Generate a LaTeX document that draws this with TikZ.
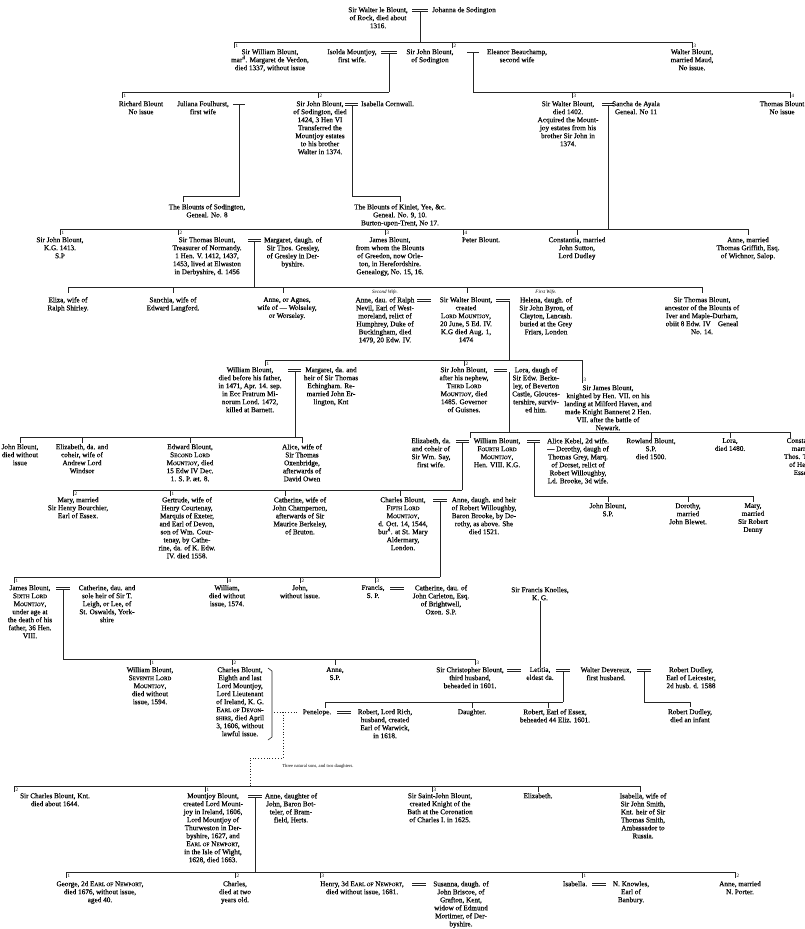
\documentclass[tikz,border=0pt]{standalone}
\usepackage{fontspec}
\setmainfont{Liberation Serif}
\newcommand\SC[1]{{\fontsize{5.3}{8}\selectfont\addfontfeature{FakeBold=0.2}#1}}
\newcommand\marr[3]{\draw[ml] (#1,#3-0.9) -- (#2,#3-0.9) (#1,#3+0.9) -- (#2,#3+0.9);}
\newcommand\sgl[3]{\draw[ml] (#1,#3) -- (#2,#3);}
\newcommand\tickn[3]{\draw[ml] (#1,#2) -- (#1,#2+6); \node[num] at (#1+1.5,#2+3.5) {#3};}
\newcommand\tickp[2]{\draw[ml] (#1,#2) -- (#1,#2+6);}
\begin{document}
\begin{tikzpicture}[x=1pt,y=-1pt,
  every node/.style={font=\fontsize{7.2}{8}\selectfont\addfontfeature{FakeBold=0.2}, inner sep=0pt, align=center, anchor=north, text=black},
  ml/.style={line width=0.6pt, black!85},
  dl/.style={line width=0.8pt, black!85, dotted},
  num/.style={font=\fontsize{5}{5}\selectfont, anchor=west, inner sep=0pt},
  wife/.style={font=\fontsize{5}{6}\selectfont\itshape},
  tiny/.style={font=\fontsize{4.6}{6}\selectfont}]
\useasboundingbox (0,0) rectangle (804,929);
\fill[white] (0,0) rectangle (804,929);

% ---------- generation 1
\node (WalterLe) at (378,7) {Sir Walter le Blount,\\of Rock, died about\\1316.};
\node[anchor=north west] (Johanna) at (432,7) {Johanna de Sodington};
\marr{412}{428}{10}
\coordinate (g1) at (420,12);
\coordinate (b2) at (420,42);
\draw[ml] (g1) -- (b2);
\draw[ml] (234,42) -- (692,42);
\tickn{234}{42}{1}\tickn{452}{42}{2}\tickn{692}{42}{3}

% ---------- generation 2
\node (SirWilliam) at (270,49) {Sir William Blount,\\mar\textsuperscript{d}. Margaret de Verdon,\\died 1337, without issue};
\node (Isolda) at (352,49) {Isolda Mountjoy,\\first wife.};
\marr{381}{397}{52}
\node (SirJohnA) at (430,49) {Sir John Blount,\\of Sodington};
\sgl{467}{479}{52}
\node (Eleanor) at (517,49) {Eleanor Beauchamp,\\second wife};
\node (WalterMaud) at (692,49) {Walter Blount,\\married Maud,\\No issue.};
\draw[ml] (389,54) -- (389,92);
\draw[ml] (473,52) -- (473,92);
\draw[ml] (122,92) -- (389,92);
\draw[ml] (473,92) -- (790,92);
\tickn{122}{92}{1}\tickn{318}{92}{2}\tickn{572}{92}{3}\tickn{790}{92}{4}

% ---------- generation 3
\node (Richard) at (141,101) {Richard Blount\\No issue};
\node (Juliana) at (203,101) {Juliana Foulhurst,\\first wife};
\sgl{233}{245}{104}
\node (SirJohnB) at (320,101) {Sir John Blount,\\of Sodington, died\\1424, 3 Hen VI\\Transferred the\\Mountjoy estates\\to his brother\\Walter in 1374.};
\marr{345}{358}{104}
\node[anchor=north west] (Isabella) at (361,101) {Isabella Cornwall.};
\node (SirWalterB) at (568,101) {Sir Walter Blount,\\died 1402.\\Acquired the Mount-\\joy estates from his\\brother Sir John in\\1374.};
\marr{602}{614}{104}
\node (Sancha) at (636,101) {Sancha de Ayala\\Geneal. No 11};
\node (ThomasB) at (782,101) {Thomas Blount\\No issue};
\draw[ml] (239,104) -- (239,196) -- (183,196) -- (183,202);
\draw[ml] (352,106) -- (352,196) -- (400,196) -- (400,202);
\node (BlountsSod) at (207,204) {The Blounts of Sodington,\\Geneal. No. 8};
\node (BlountsKin) at (400,204) {The Blounts of Kinlet, Yee, \&c.\\Geneal. No. 9, 10.\\Burton-upon-Trent, No 17.};
\draw[ml] (608,106) -- (608,229);

% ---------- generation 4
\draw[ml] (60,229) -- (748,229);
\tickn{60}{229}{1}\tickn{178}{229}{2}\tickn{385}{229}{3}\tickn{463}{229}{4}\tickp{577}{229}\tickp{748}{229}
\node (SirJohnKG) at (60,237) {Sir John Blount,\\K.G. 1413.\\S.P};
\node (SirThomasT) at (207,237) {Sir Thomas Blount,\\Treasurer of Normandy.\\1 Hen. V. 1412, 1437,\\1453, lived at Elwaston\\in Derbyshire, d. 1456};
\marr{248}{261}{240}
\node (MargaretG) at (293,237) {Margaret, daugh. of\\Sir Thos. Gresley,\\of Gresley in Der-\\byshire.};
\node (James) at (390,237) {James Blount,\\from whom the Blounts\\of Greedon, now Orle-\\ton, in Herefordshire.\\Genealogy, No. 15, 16.};
\node (Peter) at (481,237) {Peter Blount.};
\node (Constantia) at (577,237) {Constantia, married\\John Sutton,\\Lord Dudley};
\node (AnneG) at (748,237) {Anne, married\\Thomas Griffith, Esq.\\of Wichnor, Salop.};
\draw[ml] (254,242) -- (254,287);

% ---------- generation 5
\draw[ml] (68,287) -- (702,287);
\tickp{68}{287}\tickp{173}{287}\tickp{283}{287}\tickp{467}{287}\tickp{702}{287}
\node (Eliza) at (68,297) {Eliza, wife of\\Ralph Shirley.};
\node (Sanchia) at (173,297) {Sanchia, wife of\\Edward Langford.};
\node (AnneAgnes) at (287,297) {Anne, or Agnes,\\wife of — Wolseley,\\or Worseley.};
\node[wife] (SecondWife) at (385,290) {Second Wife.};
\node (AnneNevil) at (385,297) {Anne, dau. of Ralph\\Nevil, Earl of West-\\moreland, relict of\\Humphrey, Duke of\\Buckingham, died\\1479, 20 Edw. IV.};
\marr{417}{431}{300}
\node (SirWalterLM) at (466,297) {Sir Walter Blount,\\created\\L\SC{ORD} M\SC{OUNTJOY},\\20 June, 5 Ed. IV.\\K.G died Aug. 1,\\1474};
\marr{496}{510}{300}
\node[wife] (FirstWife) at (546,290) {First Wife.};
\node (Helena) at (546,297) {Helena, daugh. of\\Sir John Byron, of\\Clayton, Lancash.\\buried at the Grey\\Friars, London};
\node (SirThomasIver) at (702,297) {Sir Thomas Blount,\\ancestor of the Blounts of\\Iver and Maple-Durham,\\obiit 8 Edw. IV\quad Geneal\\No. 14.};
\draw[ml] (509,302) -- (509,360);
\draw[ml] (265,360) -- (582,360) -- (582,383);
\tickn{265}{360}{1}\tickn{464}{360}{2}
\node[num] (n3) at (583.5,380) {3};

% ---------- generation 6
\node (WilliamB) at (250,367) {William Blount,\\died before his father,\\in 1471, Apr. 14. sep.\\in Ecc Fratrum Mi-\\norum Lond. 1472,\\killed at Barnett.};
\marr{288}{301}{370}
\node (MargaretE) at (331,367) {Margaret, da. and\\heir of Sir Thomas\\Echingham. Re-\\married John Er-\\lington, Knt};
\node (SirJohnC) at (464,367) {Sir John Blount,\\after his nephew,\\T\SC{HIRD} L\SC{ORD}\\M\SC{OUNTJOY}, died\\1485. Governor\\of Guisnes.};
\marr{494}{507}{370}
\node (Lora) at (536,367) {Lora, daugh of\\Sir Edw. Berke-\\ley, of Beverton\\Castle, Glouces-\\tershire, surviv-\\ed him.};
\node (SirJames) at (608,385) {Sir James Blount,\\knighted by Hen. VII. on his\\landing at Milford Haven, and\\made Knight Banneret 2 Hen.\\VII. after the battle of\\Newark.};
\draw[ml] (295,372) -- (295,437);
\draw[ml] (509,372) -- (509,432);

% ---------- generation 7
\draw[ml] (20,437) -- (302,437);
\tickp{20}{437}\tickp{82}{437}\tickp{190}{437}\tickp{302}{437}
\node (JohnB) at (20,444) {John Blount,\\died without\\issue};
\node (ElizabethW) at (82,444) {Elizabeth, da. and\\coheir, wife of\\Andrew Lord\\Windsor};
\node (Edward) at (190,444) {Edward Blount,\\S\SC{ECOND} L\SC{ORD}\\M\SC{OUNTJOY}, died\\15 Edw IV Dec.\\1. S. P. æt. 8.};
\node (Alice) at (302,444) {Alice, wife of\\Sir Thomas\\Oxenbridge,\\afterwards of\\David Owen};
\draw[ml] (470,432) -- (790,432);
\tickp{470}{432}\tickp{651}{432}\tickp{730}{432}\tickp{790}{432}
\node (ElizSay) at (431,438) {Elizabeth, da.\\and coheir of\\Sir Wm. Say,\\first wife.};
\marr{456}{469}{441}
\node (William4) at (497,438) {William Blount,\\F\SC{OURTH} L\SC{ORD}\\M\SC{OUNTJOY},\\Hen. VIII. K.G.};
\marr{527}{540}{441}
\node (AliceK) at (578,438) {Alice Kebel, 2d wife.\\— Dorothy, daugh of\\Thomas Grey, Marq.\\of Dorset, relict of\\Robert Willoughby,\\Ld. Brooke, 3d wife.};
\node (Rowland) at (651,438) {Rowland Blount,\\S.P.\\died 1500.};
\node (LoraD) at (730,438) {Lora,\\died 1480.};
\node (ConstT) at (803,438) {Constantia,\\married\\Thos. Tyrrel,\\of Heron,\\Essex.};
\draw[ml] (462,443) -- (462,490);
\draw[ml] (534,443) -- (534,496);

% ---------- generation 8
\draw[ml] (73,490) -- (462,490);
\tickn{73}{490}{2}\tickn{170}{490}{1}\tickp{285}{490}\tickp{400}{490}
\node (Mary) at (78,497) {Mary, married\\Sir Henry Bourchier,\\Earl of Essex.};
\node (Gertrude) at (187,497) {Gertrude, wife of\\Henry Courtenay,\\Marquis of Exeter,\\and Earl of Devon,\\son of Wm. Cour-\\tenay, by Cathe-\\rine, da. of K. Edw.\\IV. died 1558.};
\node (CatherineC) at (300,497) {Catherine, wife of\\John Champernon,\\afterwards of Sir\\Maurice Berkeley,\\of Bruton.};
\node (Charles5) at (403,497) {Charles Blount,\\F\SC{IFTH} L\SC{ORD}\\M\SC{OUNTJOY},\\d. Oct. 14, 1544,\\bur\textsuperscript{d}. at St. Mary\\Aldermary,\\London.};
\marr{433}{447}{500}
\node (AnneW) at (484,497) {Anne, daugh. and heir\\of Robert Willoughby,\\Baron Brooke, by Do-\\rothy, as above. She\\died 1521.};
\draw[ml] (534,496) -- (753,496);
\tickp{608}{496}\tickp{688}{496}\tickp{753}{496}
\node (JohnBSP) at (608,503) {John Blount,\\S.P.};
\node (Dorothy) at (688,503) {Dorothy,\\married\\John Blewet.};
\node (MaryD) at (753,503) {Mary,\\married\\Sir Robert\\Denny};
\draw[ml] (440,502) -- (440,577);

% ---------- generation 9
\draw[ml] (14,577) -- (440,577);
\tickn{14}{577}{1}\tickn{227}{577}{4}\tickn{300}{577}{2}\tickn{375}{577}{3}
\node (James6) at (30,585) {James Blount,\\S\SC{IXTH} L\SC{ORD}\\M\SC{OUNTJOY},\\under age at\\the death of his\\father, 36 Hen.\\VIII.};
\marr{56}{70}{588}
\node (CatherineL) at (107,585) {Catherine, dau. and\\sole heir of Sir T.\\Leigh, or Lee, of\\St. Oswalds, York-\\shire};
\node (William4th) at (227,585) {William,\\died without\\issue, 1574.};
\node (JohnNI) at (300,585) {John,\\without issue.};
\node (Francis) at (373,585) {Francis,\\S. P.};
\marr{390}{404}{588}
\node (CatherineC2) at (441,585) {Catherine, dau. of\\John Carleton, Esq.\\of Brightwell,\\Oxon. S.P.};
\node (Knolles) at (540,587) {Sir Francis Knolles,\\K. G.};
\draw[ml] (63,590) -- (63,659);

% ---------- generation 10
\draw[ml] (63,659) -- (475,659);
\tickn{150}{659}{1}\tickn{232}{659}{2}\tickp{335}{659}\tickn{475}{659}{3}
\node (William7) at (150,667) {William Blount,\\S\SC{EVENTH} L\SC{ORD}\\M\SC{OUNTJOY},\\died without\\issue, 1594.};
\node (Charles8) at (240,667) {Charles Blount,\\Eighth and last\\Lord Mountjoy,\\Lord Lieutenant\\of Ireland, K. G.\\E\SC{ARL OF} D\SC{EVON}-\\\SC{SHIRE}, died April\\3, 1606, without\\lawful issue.};
\node (Anne) at (335,667) {Anne,\\S.P.};
\node (SirChristopher) at (470,667) {Sir Christopher Blount,\\third husband,\\beheaded in 1601.};
\marr{507}{521}{670}
\node (Letitia) at (540,667) {Letitia,\\eldest da.};
\draw[ml] (Knolles.south) -- (Letitia.north);
\marr{556}{570}{670}
\node (Devereux) at (606,667) {Walter Devereux,\\first husband.};
\marr{637}{651}{670}
\node (Dudley) at (691,667) {Robert Dudley,\\Earl of Leicester,\\2d husb. d. 1588};
\draw[ml] (268,668) -- (272,671) -- (272,737) -- (268,740);
\draw[dl] (274,712) -- (299,712);
\draw[dl] (283,712) -- (283,758) -- (250,758) -- (250,786);
\draw[ml] (563,672) -- (563,702);
\draw[ml] (325,702) -- (563,702);
\tickp{325}{702}\tickp{472}{702}\tickp{548}{702}
\draw[ml] (644,672) -- (644,702) -- (690,702) -- (690,707);

% ---------- generation 11
\node (Penelope) at (317,709) {Penelope.};
\marr{337}{351}{712}
\node (RobertRich) at (385,709) {Robert, Lord Rich,\\husband, created\\Earl of Warwick,\\in 1618.};
\node (Daughter) at (472,709) {Daughter.};
\node (RobertEssex) at (555,709) {Robert, Earl of Essex,\\beheaded 44 Eliz. 1601.};
\node (RobertDudleyInf) at (690,709) {Robert Dudley,\\died an infant};
\node[tiny] (ThreeNatural) at (318,764) {Three natural sons, and two daughters.};

% ---------- generation 12
\draw[ml] (14,786) -- (640,786);
\tickn{14}{786}{2}\tickn{205}{786}{1}\tickn{432}{786}{3}\tickp{538}{786}\tickp{640}{786}
\node (SirCharlesKnt) at (55,793) {Sir Charles Blount, Knt.\\died about 1644.};
\node (Mountjoy) at (213,793) {Mountjoy Blount,\\created Lord Mount-\\joy in Ireland, 1606,\\Lord Mountjoy of\\Thurweston in Der-\\byshire, 1627, and\\E\SC{ARL OF} N\SC{EWPORT},\\in the Isle of Wight,\\1628, died 1663.};
\marr{248}{262}{796}
\node (AnneB) at (291,793) {Anne, daughter of\\John, Baron Bot-\\teler, of Bram-\\field, Herts.};
\node (SaintJohn) at (440,793) {Sir Saint-John Blount,\\created Knight of the\\Bath at the Coronation\\of Charles I. in 1625.};
\node (ElizabethX) at (538,793) {Elizabeth.};
\node (IsabellaS) at (643,793) {Isabella, wife of\\Sir John Smith,\\Knt. heir of Sir\\Thomas Smith,\\Ambassador to\\Russia.};
\draw[ml] (255,798) -- (255,872);

% ---------- generation 13
\draw[ml] (66,872) -- (735,872);
\tickn{66}{872}{1}\tickn{235}{872}{2}\tickn{320}{872}{3}\tickn{582}{872}{1}\tickn{735}{872}{2}
\node (George) at (100,881) {George, 2d E\SC{ARL OF} N\SC{EWPORT},\\died 1676, without issue,\\aged 40.};
\node (CharlesC) at (235,881) {Charles,\\died at two\\years old.};
\node (Henry) at (362,881) {Henry, 3d E\SC{ARL OF} N\SC{EWPORT},\\died without issue, 1681.};
\marr{412}{426}{884}
\node (Susanna) at (461,881) {Susanna, daugh. of\\John Briscoe, of\\Grafton, Kent,\\widow of Edmund\\Mortimer, of Der-\\byshire.};
\node (IsabellaK) at (575,881) {Isabella.};
\marr{592}{606}{884}
\node (Knowles) at (631,881) {N. Knowles,\\Earl of\\Banbury.};
\node (AnneP) at (740,881) {Anne, married\\N. Porter.};
\end{tikzpicture}
\end{document}
